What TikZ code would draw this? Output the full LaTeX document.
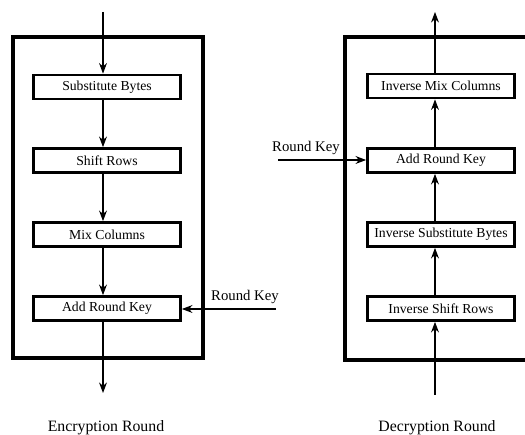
\documentclass[tikz,border=0pt]{standalone}
\usepackage{fontspec}
\setmainfont{Liberation Serif}
\usetikzlibrary{arrows.meta}
\begin{document}
\begin{tikzpicture}[
        x=0.02cm, y=-0.02cm,
        stage/.style={rectangle, draw, line width=1.6pt, minimum width=2.94cm, minimum height=0.48cm, inner sep=0pt, font=\fontsize{7.8}{9}\selectfont},
        frame/.style={draw, line width=1.8pt},
        arrow/.style={-{Stealth[length=6pt, width=4.5pt]}, line width=0.6pt},
        keylabel/.style={font=\fontsize{8.4}{10}\selectfont},
        caption/.style={font=\fontsize{9}{11}\selectfont}
    ]
    \useasboundingbox (0,0) rectangle (525,435);

    % Encryption round
    \draw[frame] (13,37) rectangle (203,358);
    \node[stage] (sb) at (107,87) {Substitute Bytes};
    \node[stage] (sr) at (107,160.5) {Shift Rows};
    \node[stage] (mc) at (107,234.5) {Mix Columns};
    \node[stage] (arkE) at (107,308.5) {Add Round Key};
    \coordinate (encin) at (103,12);
    \coordinate (encout) at (103,393);
    \node[caption] (encname) at (106,428) {Encryption Round};

    % Key into encryption
    \node[keylabel] (rkE) at (245,297) {Round Key};
    \coordinate (rkEstart) at (276,309);

    \draw[arrow] (encin) -- (encin |- sb.north);
    \draw[arrow] (sb.south -| encin) -- (sr.north -| encin);
    \draw[arrow] (sr.south -| encin) -- (mc.north -| encin);
    \draw[arrow] (mc.south -| encin) -- (arkE.north -| encin);
    \draw[arrow] (arkE.south -| encin) -- (encout);
    \draw[arrow] (rkEstart) -- (rkEstart -| arkE.east);

    % Decryption round
    \draw[frame] (345,37) rectangle (540,360);
    \node[stage] (imc) at (441,86) {Inverse Mix Columns};
    \node[stage] (arkD) at (441,160.5) {Add Round Key};
    \node[stage] (isb) at (441,234.5) {Inverse Substitute Bytes};
    \node[stage] (isr) at (441,308.5) {Inverse Shift Rows};
    \coordinate (decin) at (435,395);
    \coordinate (decout) at (435,12);
    \node[caption] (decname) at (437,428) {Decryption Round};

    % Key into decryption
    \node[keylabel] (rkD) at (306,148) {Round Key};
    \coordinate (rkDstart) at (278,160);

    \draw[arrow] (decin) -- (decin |- isr.south);
    \draw[arrow] (isr.north -| decin) -- (isb.south -| decin);
    \draw[arrow] (isb.north -| decin) -- (arkD.south -| decin);
    \draw[arrow] (arkD.north -| decin) -- (imc.south -| decin);
    \draw[arrow] (imc.north -| decin) -- (decout);
    \draw[arrow] (rkDstart) -- (rkDstart -| arkD.west);

\end{tikzpicture}
\end{document}
